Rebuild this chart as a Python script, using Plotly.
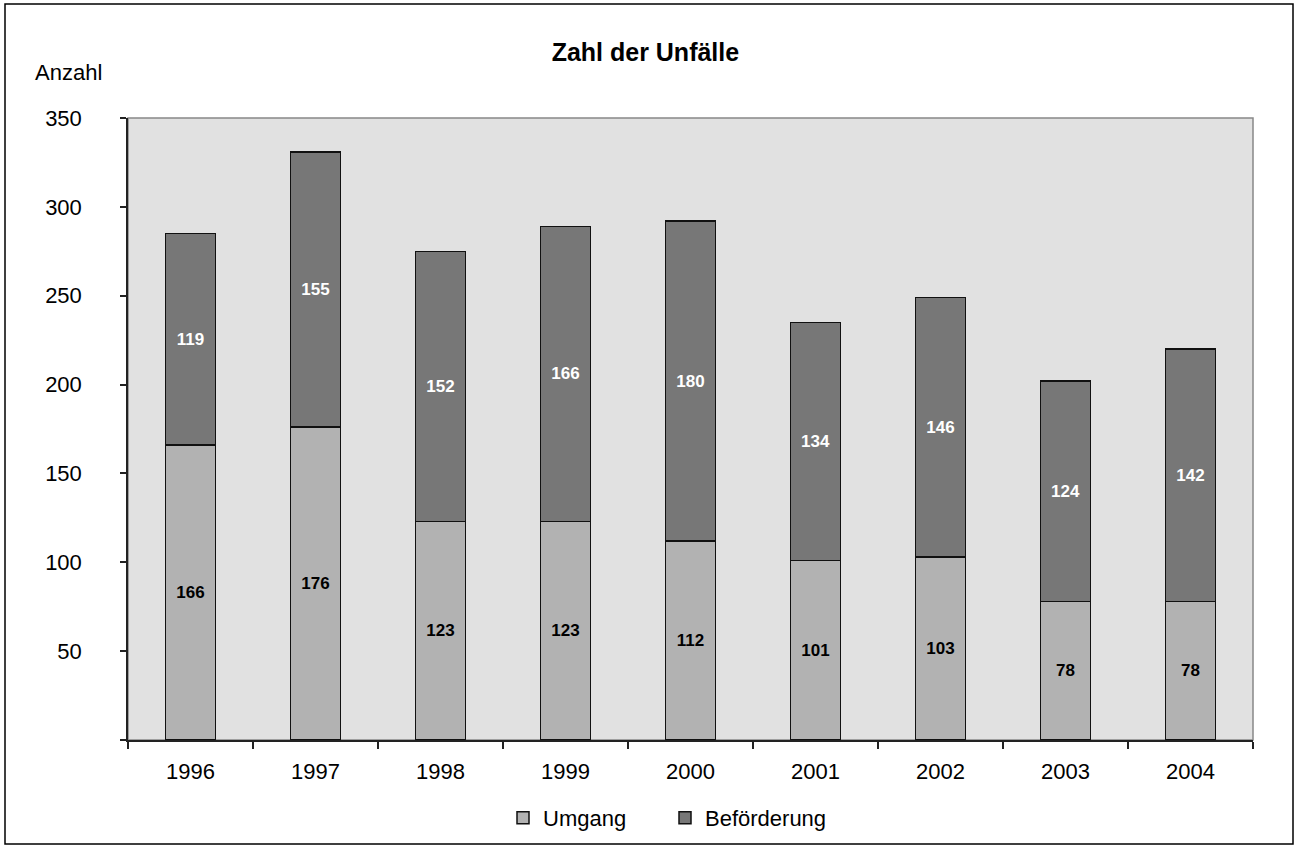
import plotly.graph_objects as go

years = ["1996", "1997", "1998", "1999", "2000", "2001", "2002", "2003", "2004"]
umgang = [166, 176, 123, 123, 112, 101, 103, 78, 78]
befoerderung = [119, 155, 152, 166, 180, 134, 146, 124, 142]
y_ticks = [0, 50, 100, 150, 200, 250, 300, 350]
y_ticktext = ["", "50", "100", "150", "200", "250", "300", "350"]

W, H = 1296, 846
L, R, T, B = 128, 43, 118, 106
pw, ph = W - L - R, H - T - B

FONT = "Liberation Sans, Arial, sans-serif"

fig = go.Figure()
fig.add_trace(go.Bar(
    x=years, y=umgang, name="Umgang",
    marker=dict(color="#b2b2b2", line=dict(color="#111111", width=1.5)),
    text=umgang, texttemplate="<b>%{text}</b>", textposition="inside",
    insidetextanchor="middle", textangle=0,
    textfont=dict(family=FONT, size=17, color="#000000"),
))
fig.add_trace(go.Bar(
    x=years, y=befoerderung, name="Beförderung",
    marker=dict(color="#777777", line=dict(color="#111111", width=1.5)),
    text=befoerderung, texttemplate="<b>%{text}</b>", textposition="inside",
    insidetextanchor="middle", textangle=0,
    textfont=dict(family=FONT, size=17, color="#ffffff"),
))

def px_x(p):
    return (p - L) / pw

def px_y(p):
    return 1 - (p - T) / ph

shapes = [
    # outer border
    dict(type="rect", xref="paper", yref="paper",
         x0=px_x(5), x1=px_x(1293), y0=px_y(844), y1=px_y(4),
         line=dict(color="#000000", width=1.5), layer="below"),
    # plot area border (top/right gray)
    dict(type="rect", xref="paper", yref="paper",
         x0=0, x1=1, y0=0, y1=1,
         line=dict(color="#888888", width=1.5), layer="below"),
]

fig.update_layout(
    width=W, height=H,
    autosize=False,
    margin=dict(l=L, r=R, t=T, b=B, autoexpand=False),
    paper_bgcolor="#ffffff",
    plot_bgcolor="#e1e1e1",
    barmode="stack",
    bargap=0.6,
    font=dict(family=FONT, size=22, color="#000000"),
    title=dict(text="<b>Zahl der Unfälle</b>", x=0.498, xref="container",
               y=1 - 52 / H, yref="container", xanchor="center", yanchor="middle",
               font=dict(family=FONT, size=25, color="#000000")),
    annotations=[dict(text="Anzahl", xref="paper", yref="paper",
                      x=px_x(68), y=px_y(72), xanchor="center", yanchor="middle",
                      showarrow=False, font=dict(family=FONT, size=22, color="#000000"))],
    shapes=shapes,
    showlegend=True,
    legend=dict(orientation="h", x=px_x(503), xanchor="left",
                y=px_y(818), yanchor="middle",
                font=dict(family=FONT, size=22, color="#000000"),
                bgcolor="rgba(0,0,0,0)", traceorder="normal", itemwidth=30,
                entrywidth=117),
    uniformtext=dict(mode=False),
)
fig.update_xaxes(type="category", showline=True, linecolor="#222222", linewidth=1.5,
                 ticks="outside", tickson="boundaries", ticklen=7, tickcolor="#222222",
                 tickwidth=1.5, showgrid=False, ticklabelstandoff=11,
                 tickfont=dict(family=FONT, size=22, color="#000000"))
fig.update_yaxes(range=[0, 350], tickvals=y_ticks, ticktext=y_ticktext,
                 showline=True, linecolor="#222222", linewidth=1.5,
                 ticks="outside", ticklen=6, tickcolor="#222222", tickwidth=1.5,
                 showgrid=False, zeroline=False, ticklabelstandoff=34,
                 tickfont=dict(family=FONT, size=22, color="#000000"))

fig.write_html("out.html",
               config={"responsive": False, "displayModeBar": False},
               post_script="document.body.style.margin='0';document.body.style.overflow='hidden';")
